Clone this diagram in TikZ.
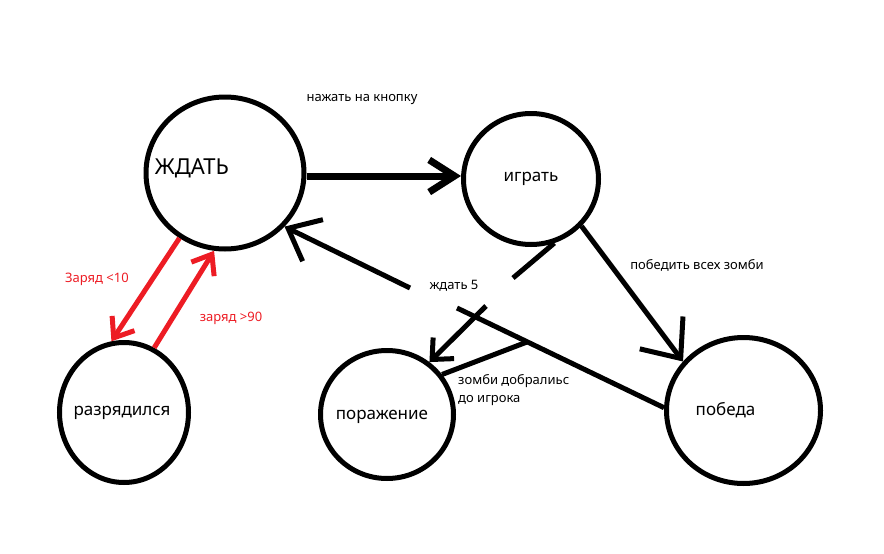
\documentclass[tikz,border=0pt]{standalone}
\usepackage{fontspec}
\setmainfont{Noto Sans}
\usetikzlibrary{arrows.meta,shapes.geometric}
\definecolor{paintred}{RGB}{237,28,36}
\tikzset{
	circ/.style={ellipse, draw, line width=5pt, inner sep=0pt},
	statetext/.style={font=\fontsize{17}{19}\selectfont},
	note/.style={font=\fontsize{13}{18}\selectfont, inner sep=0pt},
	link/.style={line width=5pt},
	barb/.style={-{Straight Barb[angle=#1]}},
}

\begin{document}
\begin{tikzpicture}[x=1pt, y=-1pt]
		%%%%% START %%%%%
		\useasboundingbox (0,0) rectangle (884,554);
		
		\node[circ, minimum width=158pt, minimum height=152pt, label={[font=\fontsize{22}{24}\selectfont, xshift=-33pt, yshift=5pt]center:ЖДАТЬ}] (wait) at (225,173) {};
		\node[circ, minimum width=135pt, minimum height=131pt, label={[statetext]center:играть}] (play) at (531,179) {};
		\node[circ, minimum width=154pt, minimum height=146pt, label={[statetext, xshift=-18pt]center:победа}] (win) at (743.5,410.5) {};
		\node[circ, minimum width=133pt, minimum height=128pt, label={[statetext, xshift=-5pt, yshift=-2pt]center:поражение}] (lose) at (387,414.5) {};
		\node[circ, minimum width=129pt, minimum height=140pt, label={[statetext, xshift=-2pt]center:разрядился}] (low) at (124,412.5) {};
		
		\draw[link, line width=7pt, barb=65:30pt] ([yshift=-3pt]wait.east) -- ([yshift=3pt]play.west);
		\node[note] (press) at (362,100) {нажать на кнопку};
		
		\draw[link, barb=80:42pt] (play.-43) -- (win.141);
		\node[note] (beatall) at (697,265) {победить всех зомби};
		
		\coordinate (gapR) at (457,308);
		\coordinate (gapL) at (410,288);
		\draw[link] (win.178) -- (gapR);
		\draw[link, barb=80:36pt] (gapL) -- (wait.-42);
		\node[note] (wait5) at (454,286) {ждать 5};
		
		\coordinate (gapT) at (513,278);
		\coordinate (gapB) at (486,306);
		\draw[link] (play.-70) -- (gapT);
		\draw[link, barb=85:22pt] (gapB) -- (lose.51);
		
		\coordinate (join) at (527,342);
		\draw[link] (lose.36) -- (join);
		\node[note, align=left, anchor=west] (caught) at (458,390) {зомби добралиьс\\до игрока};
		
		\draw[link, paintred, barb=75:22pt] (wait.-125) -- (low.100);
		\node[note, paintred] (low10) at (97,279) {Заряд <10};
		\draw[link, paintred, barb=75:22pt] (low.65) -- (wait.-98);
		\node[note, paintred] (high90) at (231,318) {заряд >90};
		
		%%%%% END %%%%%
	\end{tikzpicture}
\end{document}
